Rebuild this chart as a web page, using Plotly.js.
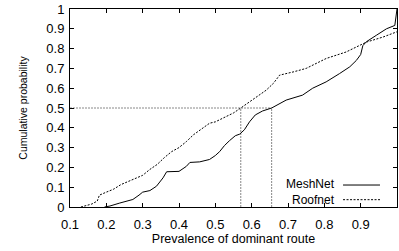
<!DOCTYPE html>
<html><head><meta charset="utf-8">
<script src="https://cdn.plot.ly/plotly-3.0.1.min.js"></script>
<style>html,body{margin:0;padding:0;background:#fff}#chart{width:399px;height:251px}</style>
</head><body><div id="chart"></div>
<script>
var meshX = [0.195,0.21,0.237,0.26,0.273,0.29,0.3,0.32,0.338,0.356,0.366,0.4,0.42,0.43,0.457,0.484,0.5,0.512,0.525,0.539,0.555,0.567,0.58,0.594,0.61,0.63,0.655,0.695,0.74,0.768,0.805,0.842,0.87,0.888,0.9,0.906,0.916,0.943,0.971,0.994,1.0];
var meshY = [0,0.005,0.02,0.03,0.038,0.06,0.075,0.083,0.105,0.147,0.178,0.18,0.205,0.225,0.228,0.24,0.26,0.28,0.31,0.335,0.36,0.368,0.39,0.43,0.465,0.485,0.5,0.54,0.565,0.6,0.632,0.674,0.708,0.74,0.77,0.815,0.835,0.867,0.9,0.917,1.0];
var roofX = [0.13,0.16,0.175,0.181,0.2,0.22,0.24,0.26,0.3,0.32,0.34,0.36,0.38,0.4,0.42,0.44,0.46,0.484,0.5,0.531,0.55,0.57,0.594,0.622,0.64,0.66,0.677,0.714,0.75,0.805,0.86,0.916,0.961,1.0];
var roofY = [0,0.015,0.03,0.06,0.075,0.09,0.113,0.13,0.16,0.19,0.215,0.25,0.28,0.30,0.33,0.365,0.39,0.423,0.43,0.456,0.475,0.50,0.53,0.565,0.59,0.625,0.666,0.682,0.70,0.75,0.783,0.833,0.858,0.885];
var medianRoof = 0.57, medianMesh = 0.655, medianLevel = 0.5;
var xTicks = [0.1,0.2,0.3,0.4,0.5,0.6,0.7,0.8,0.9,1];
var xTickText = ['0.1','0.2','0.3','0.4','0.5','0.6','0.7','0.8','0.9','1'];
var yTicks = [0,0.1,0.2,0.3,0.4,0.5,0.6,0.7,0.8,0.9,1];
var yTickText = ['0','0.1','0.2','0.3','0.4','0.5','0.6','0.7','0.8','0.9','1'];
var seriesNames = ['MeshNet','Roofnet'];

var fam = 'Liberation Sans, Arial, sans-serif';
var tickFont = {family:fam, size:13, color:'#000'};
var legFont = {family:fam, size:12, color:'#000'};
var traces = [
  {x:meshX, y:meshY, mode:'lines', name:seriesNames[0], line:{color:'#000', width:1}, showlegend:false},
  {x:roofX, y:roofY, mode:'lines', name:seriesNames[1], line:{color:'#000', width:1, dash:'2px,1.5px'}, showlegend:false}
];
var grey = {color:'#888', width:1, dash:'2px,1px'};
var layout = {
  width:399, height:251,
  margin:{l:70, r:2, t:8.5, b:43.5},
  paper_bgcolor:'#fff', plot_bgcolor:'#fff',
  font:tickFont,
  xaxis:{range:[0.1,1], tickvals:xTicks, ticktext:xTickText, ticks:'inside', ticklen:4, tickcolor:'#000',
         showline:true, linecolor:'#000', linewidth:1, mirror:'ticks', showgrid:false, zeroline:false,
         ticklabelstandoff:5,
         title:{text:'Prevalence of dominant route', font:{family:fam, size:12.5, color:'#000'}, standoff:2}, tickfont:tickFont},
  yaxis:{range:[0,1], tickvals:yTicks, ticktext:yTickText, ticks:'inside', ticklen:4, tickcolor:'#000',
         showline:true, linecolor:'#000', linewidth:1, mirror:'ticks', showgrid:false, zeroline:false,
         ticklabelstandoff:2,
         title:{text:'Cumulative probability', font:{family:fam, size:10.5, color:'#000'}, standoff:16}, tickfont:tickFont},
  shapes:[
    {type:'line', xref:'x', yref:'y', x0:0.1, x1:medianMesh, y0:medianLevel, y1:medianLevel, line:grey, layer:'below'},
    {type:'line', xref:'x', yref:'y', x0:medianRoof, x1:medianRoof, y0:0, y1:medianLevel, line:grey, layer:'below'},
    {type:'line', xref:'x', yref:'y', x0:medianMesh, x1:medianMesh, y0:0, y1:medianLevel, line:grey, layer:'below'},
    {type:'line', xref:'paper', yref:'paper', x0:0.835, x1:0.948, y0:0.111, y1:0.111, line:{color:'#000', width:1}},
    {type:'line', xref:'paper', yref:'paper', x0:0.835, x1:0.948, y0:0.037, y1:0.037, line:{color:'#000', width:1, dash:'2px,1.5px'}}
  ],
  annotations:[
    {xref:'paper', yref:'paper', x:0.812, y:0.074, xanchor:'right', yanchor:'middle', align:'right',
     text:seriesNames[0] + '<br>' + seriesNames[1], showarrow:false, font:legFont, borderpad:0}
  ]
};
Plotly.newPlot('chart', traces, layout, {staticPlot:true, displayModeBar:false});
</script></body></html>
